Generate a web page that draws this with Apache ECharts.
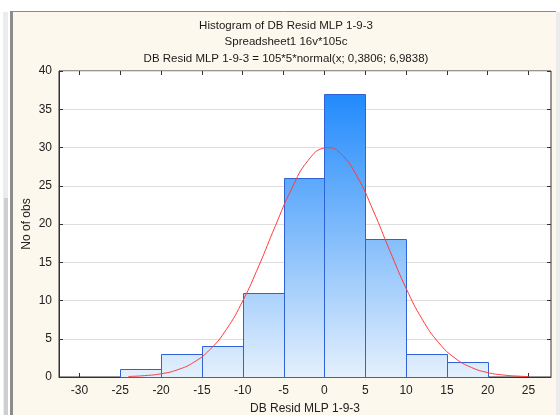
<!DOCTYPE html>
<html>
<head>
<meta charset="utf-8">
<script src="https://cdn.jsdelivr.net/npm/echarts@6/dist/echarts.min.js"></script>
<style>
html,body{margin:0;padding:0;background:#fff;}
#c{width:560px;height:415px;}
</style>
</head>
<body>
<div id="c"></div>
<script>
// Histogram bins (lower edge, upper edge) and counts
var binStart = [-25, -20, -15, -10, -5, 0, 5, 10, 15];
var binEnd   = [-20, -15, -10, -5, 0, 5, 10, 15, 20];
var counts   = [1, 3, 4, 11, 26, 37, 18, 3, 2];

// Fitted normal curve
var curveX = [-24, -22, -20, -18, -16, -14, -12, -10, -8, -6, -4, -2, 0, 0.4, 2, 4, 6, 8, 10, 12, 14, 16, 18, 20, 22, 24, 25];
var curveY = [0.07, 0.18, 0.42, 0.94, 1.92, 3.6, 6.23, 9.94, 14.6, 19.76, 24.63, 28.3, 29.95, 29.99, 29.2, 26.22, 21.7, 16.54, 11.61, 7.51, 4.48, 2.46, 1.25, 0.58, 0.25, 0.1, 0.06];

// Tick labels
var xTicks = [-30, -25, -20, -15, -10, -5, 0, 5, 10, 15, 20, 25];
var yTicks = [0, 5, 10, 15, 20, 25, 30, 35, 40];

var titleLines = ['Histogram of DB Resid MLP 1-9-3', 'Spreadsheet1 16v*105c', 'DB Resid MLP 1-9-3 = 105*5*normal(x; 0,3806; 6,9838)'];
var xName = 'DB Resid MLP 1-9-3';
var yName = 'No of obs';

var histData = binStart.map(function (s, i) { return [s, binEnd[i], counts[i]]; });
var curveData = curveX.map(function (x, i) { return [x, curveY[i]]; });

var chart = echarts.init(document.getElementById('c'), null, {renderer: 'canvas'});
var FONT = 'Liberation Sans, Arial, sans-serif';
var GRID = {left: 59, right: 9, top: 71, bottom: 38};

var barFill = new echarts.graphic.LinearGradient(0, 71, 0, 377, [
  {offset: 0, color: '#1282fd'},
  {offset: 0.5, color: '#7ab8fb'},
  {offset: 1, color: '#e4f0fd'}
], true);

var titleGraphics = titleLines.map(function (t, i) {
  return {type: 'text', silent: true, x: 286, y: 25.5 + i * 16.5, z: 5, style: {
    x: 0, y: 0, text: t, font: '11.5px ' + FONT, fill: '#1a1a1a', align: 'center', verticalAlign: 'middle'
  }};
});

var option = {
  animation: false,
  backgroundColor: '#ffffff',
  graphic: [
    {type: 'rect', silent: true, z: -10, shape: {x: 13, y: 12, width: 543, height: 410}, style: {fill: '#fdf8ed'}},
    {type: 'line', silent: true, z: -9, shape: {x1: 13, y1: 11.5, x2: 556, y2: 11.5}, style: {stroke: '#8a8a8a', lineWidth: 1}},
    {type: 'rect', silent: true, z: -9, shape: {x: 10, y: 11, width: 3, height: 410}, style: {fill: '#8c8c8c'}},
    {type: 'rect', silent: true, z: -9, shape: {x: 3, y: 12, width: 5, height: 410}, style: {fill: '#ececec'}},
    {type: 'rect', silent: true, z: -9, shape: {x: 4, y: 198, width: 4, height: 220}, style: {fill: '#cfcfcf'}},
    {type: 'rect', silent: true, z: -9, shape: {x: 556, y: 12, width: 4, height: 410}, style: {fill: '#ececec'}}
  ].concat(titleGraphics),
  grid: {left: GRID.left, right: GRID.right, top: GRID.top, bottom: GRID.bottom, show: true,
    outerBoundsMode: 'none', containLabel: false,
    backgroundColor: '#ffffff', borderColor: '#333', borderWidth: 1},
  xAxis: [{
    type: 'value', min: -32.5, max: 27.75,
    name: xName, nameLocation: 'middle', nameGap: 26, nameMoveOverlap: false,
    nameTextStyle: {fontFamily: FONT, fontSize: 12, color: '#222'},
    axisLine: {show: true, onZero: false, lineStyle: {color: '#333', width: 1}},
    axisTick: {show: true, inside: true, length: 4, customValues: xTicks, lineStyle: {color: '#333'}},
    axisLabel: {show: true, customValues: xTicks, margin: 8, fontFamily: FONT, fontSize: 12, color: '#222'},
    splitLine: {show: false}
  }, {
    type: 'value', min: -32.5, max: 27.75, position: 'top',
    axisLine: {show: false, onZero: false},
    axisTick: {show: true, inside: true, length: 4, customValues: xTicks, lineStyle: {color: '#333'}},
    axisLabel: {show: false},
    splitLine: {show: false}
  }],
  yAxis: [{
    type: 'value', min: 0, max: 40, interval: 5,
    name: yName, nameLocation: 'middle', nameGap: 32, nameRotate: 90, nameMoveOverlap: false,
    nameTextStyle: {fontFamily: FONT, fontSize: 12, color: '#222', verticalAlign: 'middle'},
    axisLine: {show: true, onZero: false, lineStyle: {color: '#333'}},
    axisTick: {show: true, inside: true, length: 4, lineStyle: {color: '#333'}},
    axisLabel: {margin: 7, fontFamily: FONT, fontSize: 12, color: '#222'},
    splitLine: {show: true, lineStyle: {color: '#dedede', width: 1}}
  }, {
    type: 'value', min: 0, max: 40, interval: 5, position: 'right',
    axisLine: {show: false, onZero: false},
    axisTick: {show: true, inside: true, length: 4, lineStyle: {color: '#333'}},
    axisLabel: {show: false},
    splitLine: {show: false}
  }],
  series: [{
    type: 'custom',
    xAxisIndex: 0, yAxisIndex: 0,
    data: histData,
    renderItem: function (params, api) {
      var p0 = api.coord([api.value(0), api.value(2)]);
      var p1 = api.coord([api.value(1), 0]);
      return {
        type: 'rect',
        shape: {x: Math.round(p0[0]) + 0.5, y: Math.round(p0[1]) + 0.5,
                width: Math.round(p1[0]) - Math.round(p0[0]), height: Math.round(p1[1]) - Math.round(p0[1])},
        style: {fill: barFill, stroke: '#2f62d6', lineWidth: 1}
      };
    },
    z: 2
  }, {
    type: 'line',
    xAxisIndex: 0, yAxisIndex: 0,
    data: curveData,
    smooth: true,
    symbol: 'none',
    lineStyle: {color: '#ff3b3b', width: 1},
    z: 3
  }]
};
chart.setOption(option);
</script>
</body>
</html>
